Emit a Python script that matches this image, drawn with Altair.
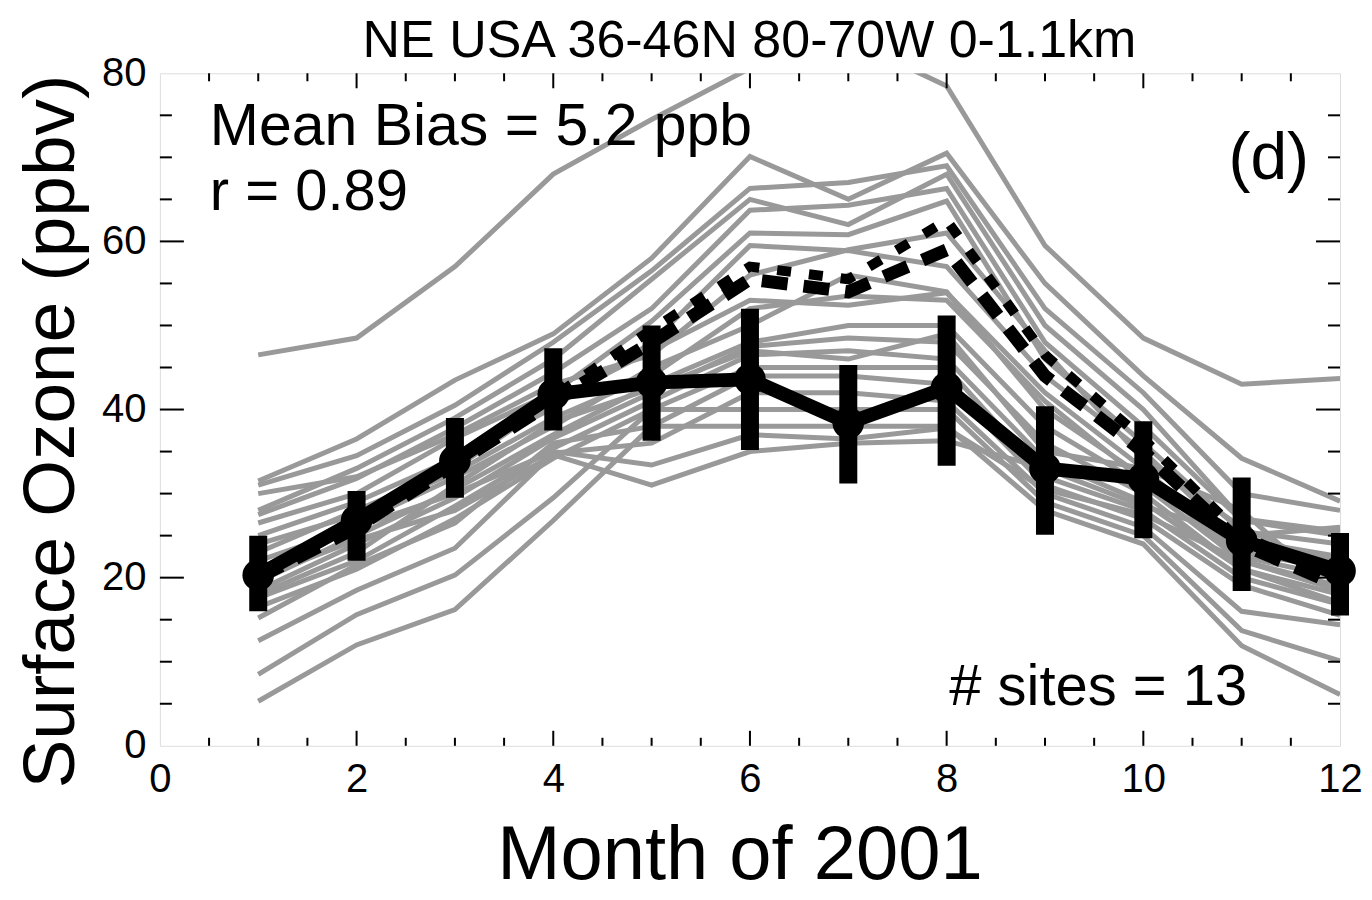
import altair as alt
import pandas as pd

months = list(range(1, 13))

# grey lines (individual model grid boxes / sites)
grey_01 = [46.5, 48.5, 57.0, 68.0, 74.5, 80.6, 84.0, 78.5, 59.5, 48.5, 43.0, 43.7]
grey_02 = [31.5, 36.5, 43.5, 49.0, 58.0, 70.1, 65.0, 70.5, 55.0, 44.0, 34.2, 29.1]
grey_03 = [31.0, 34.5, 40.5, 48.0, 56.5, 66.3, 67.0, 69.0, 52.0, 42.0, 30.0, 28.0]
grey_04 = [28.0, 33.0, 39.0, 46.0, 55.5, 65.0, 62.0, 68.0, 50.0, 40.0, 27.0, 25.5]
grey_05 = [27.5, 31.8, 37.8, 44.4, 52.0, 63.7, 64.3, 66.3, 48.0, 38.0, 26.8, 25.0]
grey_06 = [26.5, 30.0, 36.6, 42.0, 50.5, 61.0, 60.8, 64.8, 46.0, 36.0, 25.5, 24.0]
grey_07 = [25.0, 29.0, 34.2, 40.2, 48.0, 59.5, 58.9, 57.0, 44.0, 35.0, 24.0, 22.0]
grey_08 = [23.0, 28.0, 33.0, 41.0, 47.0, 53.0, 52.4, 53.9, 42.0, 33.0, 23.0, 21.0]
grey_09 = [21.0, 26.5, 31.9, 38.0, 45.0, 50.0, 56.0, 54.0, 40.0, 32.0, 22.5, 20.0]
grey_10 = [19.5, 25.0, 30.5, 37.0, 43.0, 48.0, 50.0, 50.0, 38.0, 31.0, 22.0, 19.0]
grey_11 = [18.5, 24.0, 29.5, 36.6, 42.0, 47.5, 48.5, 48.0, 36.0, 30.0, 21.0, 18.0]
grey_12 = [17.6, 22.0, 28.5, 35.4, 41.0, 46.5, 47.0, 46.0, 34.0, 29.0, 21.0, 17.0]
grey_13 = [16.5, 21.0, 27.0, 34.2, 40.0, 45.0, 45.0, 45.0, 32.0, 28.0, 20.0, 16.8]
grey_14 = [15.2, 21.5, 26.5, 36.0, 38.0, 44.0, 44.0, 43.0, 31.0, 27.0, 19.1, 15.5]
grey_15 = [12.5, 18.5, 23.5, 34.8, 36.0, 42.0, 42.0, 41.0, 30.0, 26.0, 16.0, 14.4]
grey_16 = [8.5, 15.6, 20.3, 29.5, 40.0, 40.0, 40.0, 40.0, 29.0, 25.0, 13.7, 10.1]
grey_17 = [5.3, 12.0, 16.2, 26.8, 38.0, 38.0, 38.0, 38.0, 28.0, 24.0, 11.9, 6.1]
grey_18 = [22.0, 26.0, 30.0, 35.0, 33.4, 37.0, 36.5, 37.8, 30.5, 27.5, 22.0, 18.5]
grey_19 = [20.0, 24.5, 28.0, 34.6, 31.0, 35.0, 36.0, 36.3, 33.0, 28.5, 25.0, 26.0]
grey_20 = [24.0, 27.5, 32.5, 39.0, 44.0, 52.0, 53.5, 53.0, 41.0, 31.5, 24.5, 22.5]
grey_21 = [30.0, 32.0, 37.0, 43.0, 46.5, 56.0, 59.0, 61.0, 47.0, 34.0, 26.0, 20.5]
grey_22 = [18.0, 23.0, 31.0, 38.5, 42.5, 47.0, 46.0, 49.0, 35.0, 33.0, 28.0, 17.5]

grey_series = [grey_01, grey_02, grey_03, grey_04, grey_05, grey_06, grey_07,
               grey_08, grey_09, grey_10, grey_11, grey_12, grey_13, grey_14,
               grey_15, grey_16, grey_17, grey_18, grey_19, grey_20, grey_21,
               grey_22]

# model lines
model_dash = [20.0, 26.0, 33.5, 41.0, 48.0, 55.5, 54.0, 59.0, 44.0, 35.0, 24.0, 19.0]
model_dashdot = [20.5, 26.5, 34.0, 41.5, 49.5, 57.0, 55.5, 62.5, 46.5, 36.5, 25.0, 20.0]

# observations
obs_mean = [20.3, 26.8, 33.9, 41.8, 43.2, 43.6, 38.4, 42.6, 33.0, 31.8, 24.4, 20.8]
obs_low = [16.0, 22.0, 29.5, 37.5, 36.3, 35.2, 31.2, 33.3, 25.1, 24.7, 18.4, 15.5]
obs_high = [25.0, 30.3, 39.0, 47.3, 50.0, 52.0, 45.3, 51.2, 40.4, 38.6, 31.9, 25.3]

x_major_ticks = [2, 4, 6, 8, 10]
x_minor_ticks = [0.5, 1, 1.5, 2.5, 3, 3.5, 4.5, 5, 5.5, 6.5, 7, 7.5, 8.5, 9, 9.5,
                 10.5, 11, 11.5]
y_major_ticks = [20, 40, 60]
y_minor_ticks = [5, 10, 15, 25, 30, 35, 45, 50, 55, 65, 70, 75]

title_text = "NE USA 36-46N 80-70W 0-1.1km"
x_title = "Month of 2001"
y_title = "Surface Ozone (ppbv)"

W, H = 1181, 673
FONT = "Liberation Sans"

grey_rows = []
for i, s in enumerate(grey_series):
    for m, v in zip(months, s):
        grey_rows.append({"site": i, "month": m, "o3": v})
grey_df = pd.DataFrame(grey_rows)

model_df = pd.DataFrame({"month": months, "dash": model_dash, "dashdot": model_dashdot})
obs_df = pd.DataFrame({"month": months, "mean": obs_mean, "low": obs_low, "high": obs_high})

xscale = alt.Scale(domain=[0, 12], nice=False, zero=False)
yscale = alt.Scale(domain=[0, 80], nice=False)

xaxis = alt.Axis(values=[0, 2, 4, 6, 8, 10, 12], format="d", grid=False, domain=False,
                 ticks=False, labelFontSize=40, labelFont=FONT, labelColor="black",
                 labelPadding=14, labelFlush=False, title=x_title, titleFont=FONT,
                 titleFontSize=76, titleFontWeight="normal", titleColor="black",
                 titleX=580, titleY=133, titleBaseline="alphabetic", titleAnchor="middle")
yaxis = alt.Axis(values=[0, 20, 40, 60, 80], format="d", grid=False, domain=False,
                 ticks=False, labelFontSize=40, labelFont=FONT, labelColor="black",
                 labelPadding=14, labelFlush=False, title=y_title, titleFont=FONT,
                 titleFontSize=73, titleFontWeight="normal", titleColor="black",
                 titleAngle=-90, titleX=-86, titleY=358, titleBaseline="alphabetic",
                 titleAlign="center")

grey = alt.Chart(grey_df).mark_line(color="#999999", strokeWidth=5, clip=True).encode(
    x=alt.X("month:Q", scale=xscale, axis=xaxis),
    y=alt.Y("o3:Q", scale=yscale, axis=yaxis),
    detail="site:N",
)

dash_line = alt.Chart(model_df).mark_line(color="black", strokeWidth=13,
                                          strokeDash=[26, 16], clip=True).encode(
    x=alt.X("month:Q", scale=xscale), y=alt.Y("dash:Q", scale=yscale))
dashdot_line = alt.Chart(model_df).mark_line(color="black", strokeWidth=10,
                                             strokeDash=[14, 18], clip=True).encode(
    x=alt.X("month:Q", scale=xscale), y=alt.Y("dashdot:Q", scale=yscale))

obs_line = alt.Chart(obs_df).mark_line(color="black", strokeWidth=14,
                                       strokeJoin="miter").encode(
    x=alt.X("month:Q", scale=xscale), y=alt.Y("mean:Q", scale=yscale))
obs_err = alt.Chart(obs_df).mark_rule(color="black", strokeWidth=18,
                                      strokeCap="butt").encode(
    x=alt.X("month:Q", scale=xscale), y=alt.Y("low:Q", scale=yscale),
    y2="high:Q")
obs_pts = alt.Chart(obs_df).mark_circle(color="black", size=1000, opacity=1).encode(
    x=alt.X("month:Q", scale=xscale), y=alt.Y("mean:Q", scale=yscale))


def xticks(vals, length, top):
    df = pd.DataFrame({"t": vals})
    if top:
        yv, y2v = 0, length
    else:
        yv, y2v = H, H - length
    return alt.Chart(df).mark_rule(color="black", strokeWidth=2).encode(
        x=alt.X("t:Q", scale=xscale), y=alt.value(yv), y2=alt.value(y2v))


def yticks(vals, length, right):
    df = pd.DataFrame({"t": vals})
    if right:
        xv, x2v = W, W - length
    else:
        xv, x2v = 0, length
    return alt.Chart(df).mark_rule(color="black", strokeWidth=2).encode(
        y=alt.Y("t:Q", scale=yscale), x=alt.value(xv), x2=alt.value(x2v))


tick_layers = [
    xticks(x_major_ticks, 15, False), xticks(x_minor_ticks, 8, False),
    xticks(x_major_ticks, 15, True), xticks(x_minor_ticks, 8, True),
    yticks(y_major_ticks, 24, False), yticks(y_minor_ticks, 12, False),
    yticks(y_major_ticks, 24, True), yticks(y_minor_ticks, 12, True),
]

ann_df = pd.DataFrame({"a": [0]})


def label(txt, x, y, size, align="left"):
    return alt.Chart(ann_df).mark_text(text=txt, font=FONT, fontSize=size, color="black",
                                       align=align, baseline="alphabetic").encode(
        x=alt.value(x), y=alt.value(y))


texts = [
    label(title_text, 590, -16, 52, align="center"),
    label("Mean Bias = 5.2 ppb", 50, 72, 59),
    label("r = 0.89", 50, 137, 58),
    label("(d)", 1150, 106, 66, align="right"),
    label("# sites = 13", 790, 632, 58),
]

chart = alt.layer(grey, dash_line, dashdot_line, obs_err, obs_line, obs_pts,
                  *tick_layers, *texts).properties(
    width=W, height=H,
    padding={"left": 152, "top": 65, "right": 24, "bottom": 150},
    autosize="none",
).configure_view(stroke="black", strokeWidth=2.5).configure(background="white")

chart.save("out.html", embed_options={"renderer": "svg", "actions": False})
